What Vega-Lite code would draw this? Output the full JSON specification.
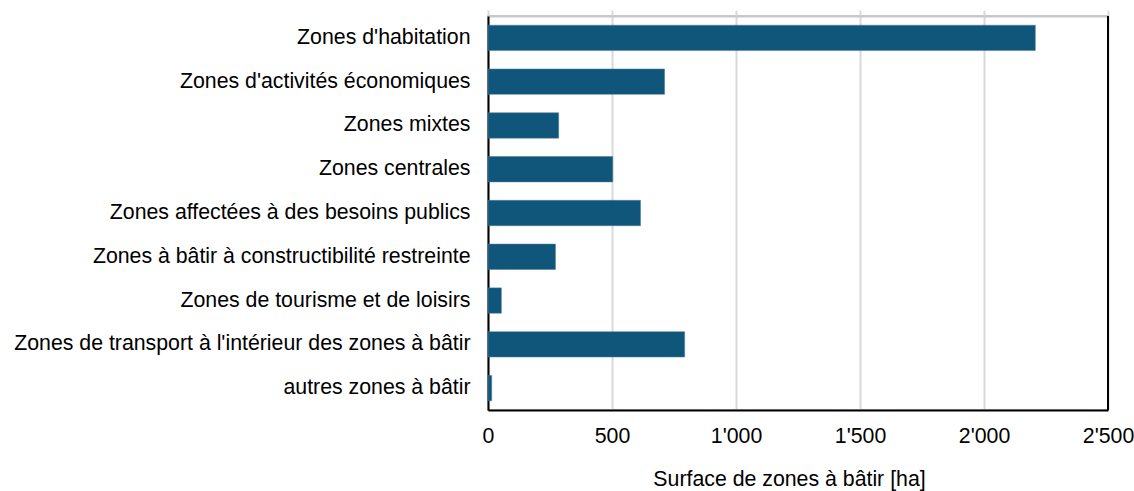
{
  "$schema": "https://vega.github.io/schema/vega-lite/v6.json",
  "autosize": {"type": "none"},
  "width": 620,
  "height": 394,
  "padding": {"left": 488, "top": 16, "right": 26, "bottom": 81},
  "background": "white",
  "config": {
    "font": "Liberation Sans",
    "view": {"stroke": "#c8c8c8", "strokeWidth": 2},
    "axis": {"labelFont": "Liberation Sans", "titleFont": "Liberation Sans", "labelColor": "black", "titleColor": "black"}
  },
  "data": {
    "values": [
      {"zone": "Zones d'habitation", "ha": 2207},
      {"zone": "Zones d'activités économiques", "ha": 712},
      {"zone": "Zones mixtes", "ha": 285},
      {"zone": "Zones centrales", "ha": 503},
      {"zone": "Zones affectées à des besoins publics", "ha": 615},
      {"zone": "Zones à bâtir à constructibilité restreinte", "ha": 272},
      {"zone": "Zones de tourisme et de loisirs", "ha": 54},
      {"zone": "Zones de transport à l'intérieur des zones à bâtir", "ha": 793},
      {"zone": "autres zones à bâtir", "ha": 15}
    ]
  },
  "layer": [
    {
      "mark": {"type": "bar", "color": "#10557a", "stroke": "#4a7fa0", "strokeWidth": 0.5},
      "encoding": {
        "y": {
          "field": "zone", "type": "nominal", "sort": null,
          "scale": {"paddingInner": 0.42, "paddingOuter": 0.21},
          "axis": {"title": null, "ticks": false, "domainColor": "black", "domainWidth": 2, "labelFontSize": 21.3, "labelPadding": 18, "labelLimit": 600}
        },
        "x": {
          "field": "ha", "type": "quantitative",
          "scale": {"domain": [0, 2500], "nice": false},
          "axis": {
            "orient": "bottom", "values": [0, 500, 1000, 1500, 2000, 2500],
            "labelExpr": "replace(format(datum.value, ','), ',', \"'\")",
            "ticks": false, "domainColor": "black", "domainWidth": 2,
            "grid": true, "gridColor": "#d9d9d9", "gridWidth": 2,
            "labelFontSize": 21.3, "labelPadding": 15, "labelFlush": false,
            "title": "Surface de zones à bâtir [ha]", "titleFontSize": 21.3, "titleFontWeight": "normal", "titlePadding": 22, "titleX": 301
          }
        }
      }
    },
    {
      "mark": {"type": "rule", "color": "black", "strokeWidth": 2},
      "encoding": {
        "x": {
          "datum": 2500, "type": "quantitative",
          "axis": {"orient": "top", "values": [0, 500, 1000, 1500, 2000, 2500], "labels": false, "ticks": true, "tickColor": "#d9d9d9", "tickWidth": 2, "tickSize": 6, "domainColor": "#c8c8c8", "domainWidth": 2, "grid": false, "title": null}
        }
      }
    }
  ],
  "resolve": {"axis": {"x": "independent"}}
}
